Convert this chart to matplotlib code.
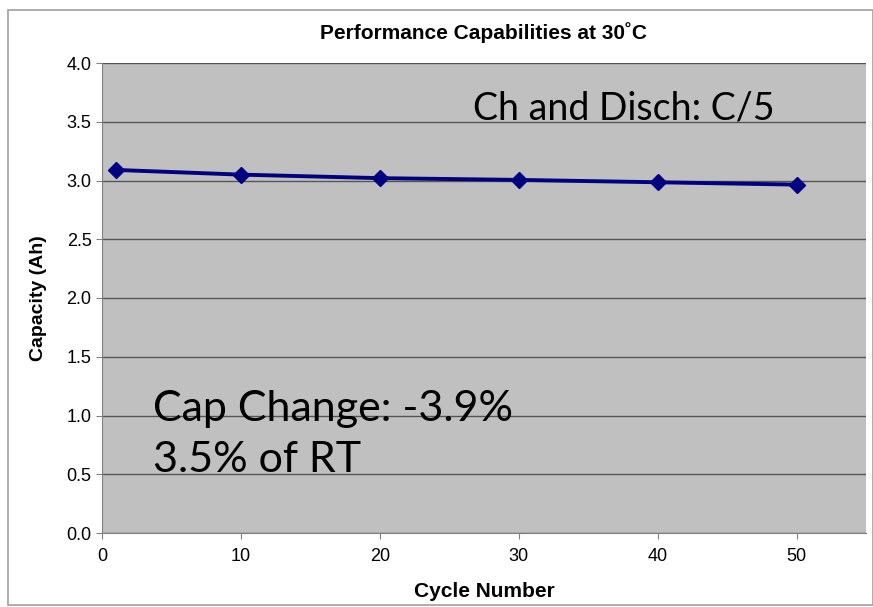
import matplotlib
matplotlib.use("Agg")
import matplotlib.pyplot as plt
from matplotlib.patches import Rectangle

# data
cycles = [1, 10, 20, 30, 40, 50]
capacity = [3.09, 3.05, 3.02, 3.005, 2.985, 2.965]
yticks = [0.0, 0.5, 1.0, 1.5, 2.0, 2.5, 3.0, 3.5, 4.0]
xticks = [0, 10, 20, 30, 40, 50]

plt.rcParams['font.family'] = ['Liberation Sans', 'DejaVu Sans']

fig = plt.figure(figsize=(8.73, 6.07), dpi=100)
fig.patches.append(Rectangle((8 / 873, 2 / 607), 1 - 8 / 873, 1 - 12 / 607,
                             transform=fig.transFigure, fill=False,
                             edgecolor='#a0a0a0', linewidth=1.2))

ax = fig.add_axes([102 / 873, 74 / 607, 764 / 873, 470 / 607])
ax.set_facecolor('#c0c0c0')
ax.plot(cycles, capacity, color='#000080', linewidth=2.8, marker='D',
        markersize=8, zorder=3)

ax.set_xlim(0, 55)
ax.set_ylim(0, 4.0)
ax.set_xticks(xticks)
ax.set_yticks(yticks)
ax.set_yticklabels([f"{v:.1f}" for v in yticks])
ax.yaxis.grid(True, color='#555555', linewidth=1)
ax.set_axisbelow(True)
for s in ['top', 'right']:
    ax.spines[s].set_visible(False)
ax.spines['left'].set_color('#808080')
ax.spines['bottom'].set_color('#808080')
ax.tick_params(axis='both', labelsize=13, color='#808080', length=4)
ax.tick_params(axis='x', pad=7)

ax.set_xlabel("Cycle Number", fontsize=15, fontweight='bold', labelpad=12)
ax.set_ylabel("Capacity (Ah)", fontsize=14, fontweight='bold', labelpad=14)
ax.set_title("Performance Capabilities at 30˚C", fontsize=15, fontweight='bold', pad=17)

ax.text(0.881, 0.904, "Ch and Disch: C/5", transform=ax.transAxes,
        fontsize=27, family=['Lato', 'DejaVu Sans'], ha='right', va='center')
ax.text(0.067, 0.21, "Cap Change: -3.9%\n3.5% of RT", transform=ax.transAxes,
        fontsize=31, family=['Lato', 'DejaVu Sans'], ha='left', va='center',
        linespacing=1.4)

fig.savefig("out.png", dpi=100)
